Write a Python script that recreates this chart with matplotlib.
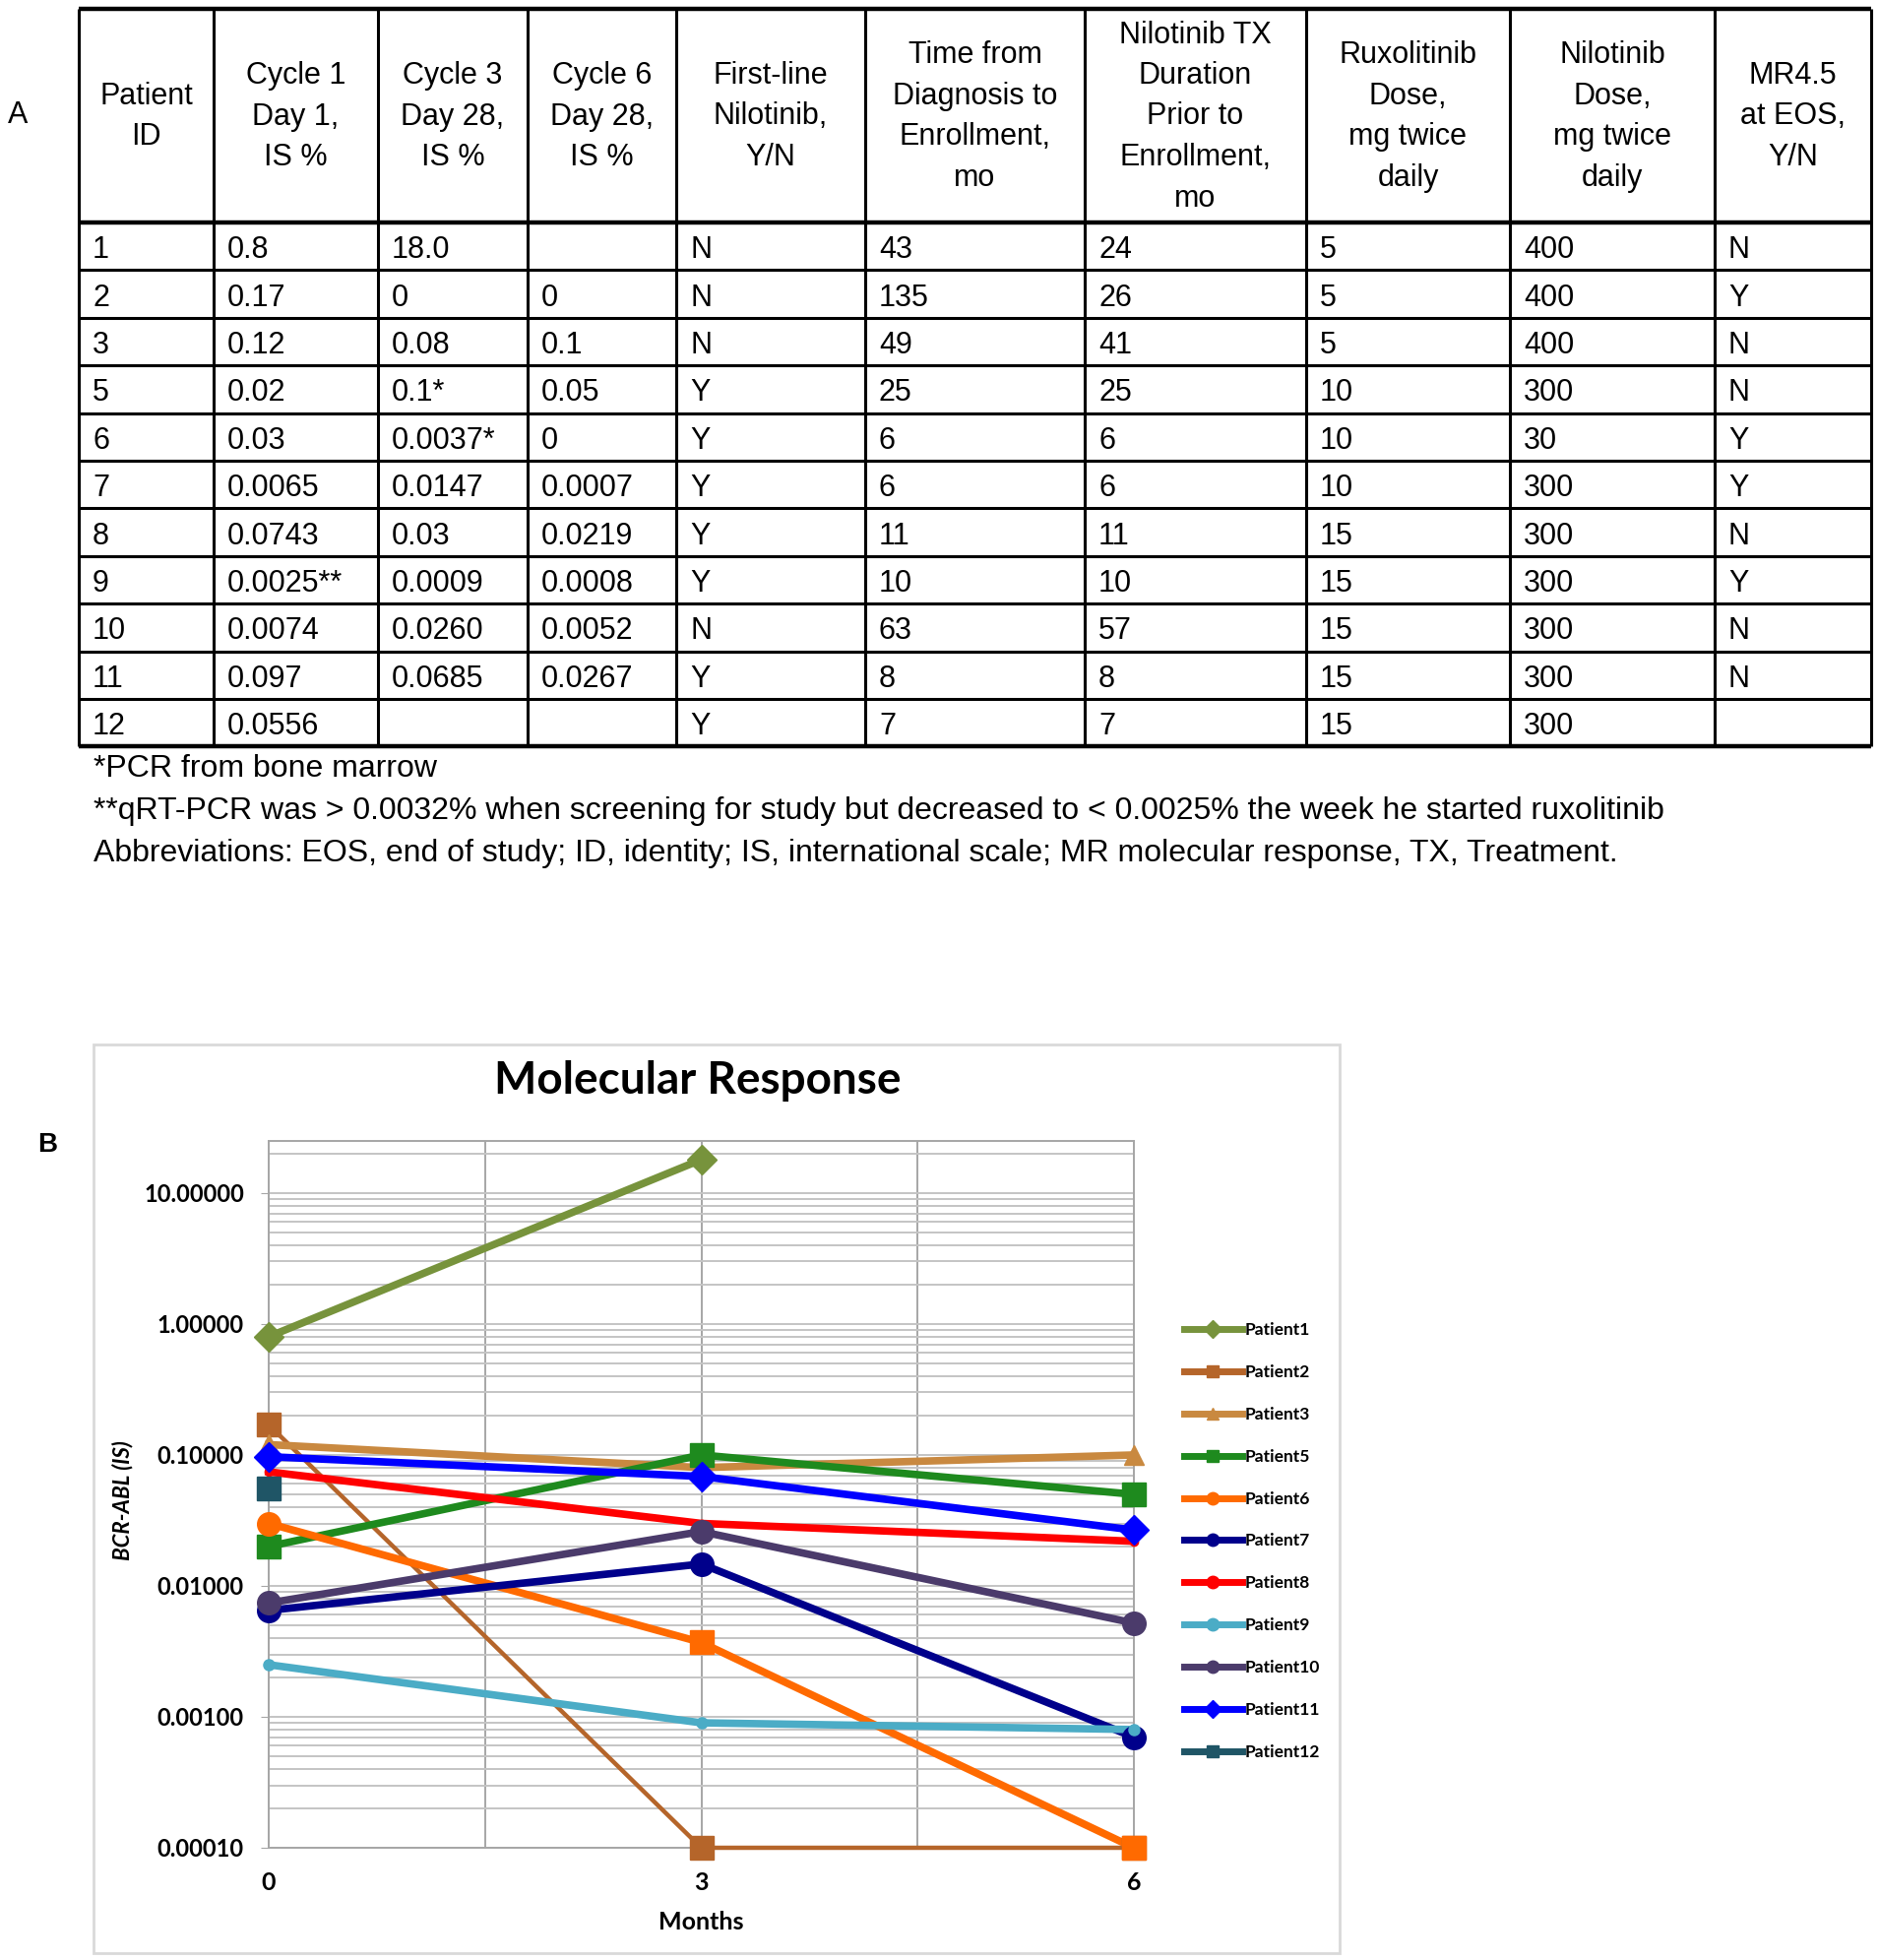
import matplotlib
matplotlib.use('Agg')
import matplotlib.pyplot as plt
import numpy as np
from matplotlib.lines import Line2D
from matplotlib.ticker import LogLocator, FixedLocator, NullFormatter, FuncFormatter

W, H = 1909, 1991
nan = np.nan

# ---------------- panel A: table data
headers = ['Patient\nID', 'Cycle 1\nDay 1,\nIS %', 'Cycle 3\nDay 28,\nIS %',
           'Cycle 6\nDay 28,\nIS %', 'First-line\nNilotinib,\nY/N',
           'Time from\nDiagnosis to\nEnrollment,\nmo',
           'Nilotinib TX\nDuration\nPrior to\nEnrollment,\nmo',
           'Ruxolitinib\nDose,\nmg twice\ndaily', 'Nilotinib\nDose,\nmg twice\ndaily',
           'MR4.5\nat EOS,\nY/N']
patient_ids = ['1', '2', '3', '5', '6', '7', '8', '9', '10', '11', '12']
cycle1 = ['0.8', '0.17', '0.12', '0.02', '0.03', '0.0065', '0.0743', '0.0025**', '0.0074', '0.097', '0.0556']
cycle3 = ['18.0', '0', '0.08', '0.1*', '0.0037*', '0.0147', '0.03', '0.0009', '0.0260', '0.0685', '']
cycle6 = ['', '0', '0.1', '0.05', '0', '0.0007', '0.0219', '0.0008', '0.0052', '0.0267', '']
first_line = ['N', 'N', 'N', 'Y', 'Y', 'Y', 'Y', 'Y', 'N', 'Y', 'Y']
time_dx = ['43', '135', '49', '25', '6', '6', '11', '10', '63', '8', '7']
tx_duration = ['24', '26', '41', '25', '6', '6', '11', '10', '57', '8', '7']
rux_dose = ['5', '5', '5', '10', '10', '10', '15', '15', '15', '15', '15']
nilo_dose = ['400', '400', '400', '300', '30', '300', '300', '300', '300', '300', '300']
mr45 = ['N', 'Y', 'N', 'N', 'Y', 'Y', 'N', 'Y', 'N', 'N', '']

footnotes = ['*PCR from bone marrow',
             '**qRT-PCR was > 0.0032% when screening for study but decreased to < 0.0025% the week he started ruxolitinib',
             'Abbreviations: EOS, end of study; ID, identity; IS, international scale; MR molecular response, TX, Treatment.']

# ---------------- panel B: chart data (zeros drawn on the 0.00010 floor)
months = [0, 3, 6]
labels = ['Patient1', 'Patient2', 'Patient3', 'Patient5', 'Patient6', 'Patient7',
          'Patient8', 'Patient9', 'Patient10', 'Patient11', 'Patient12']
p1 = [0.8, 18.0, nan]
p2 = [0.17, 0.0001, 0.0001]
p3 = [0.12, 0.08, 0.1]
p5 = [0.02, 0.1, 0.05]
p6 = [0.03, 0.0037, 0.0001]
p7 = [0.0065, 0.0147, 0.0007]
p8 = [0.0743, 0.03, 0.0219]
p9 = [0.0025, 0.0009, 0.0008]
p10 = [0.0074, 0.026, 0.0052]
p11 = [0.097, 0.0685, 0.0267]
p12 = [0.0556, nan, nan]
series = [p1, p2, p3, p5, p6, p7, p8, p9, p10, p11, p12]

colors = ['#77933C', '#B5652A', '#C98940', '#1E8A1E', '#FF6A00', '#00008B',
          '#FF0000', '#4BACC6', '#4B3B6B', '#0000FF', '#1F5566']
markers = [['D'] * 3, ['s'] * 3, ['^'] * 3, ['s'] * 3, ['o', 's', 's'], ['o'] * 3,
           ['o'] * 3, ['o'] * 3, ['o'] * 3, ['D'] * 3, ['s'] * 3]
msizes = [15, 17, 15, 17, 17, 17, 6, 8, 17, 15, 17]
lwidths = [5.5, 3.2, 5.5, 5.5, 5.5, 5.5, 5.5, 5.5, 5.5, 5.5, 5.5]

tfont = ['Liberation Sans', 'DejaVu Sans']
cfont = ['Lato', 'DejaVu Sans']

fig = plt.figure(figsize=(W / 100, H / 100), dpi=100)
bg = fig.add_axes([0, 0, 1, 1])
bg.set_xlim(0, W)
bg.set_ylim(H, 0)
bg.axis('off')

# table grid
col_edges = [80, 217, 384, 536, 687, 879, 1102, 1327, 1534, 1742, 1901]
head_top, head_bot, row_h = 9, 226, 48.4
n_rows = len(patient_ids)
row_edges = [head_bot + i * row_h for i in range(n_rows + 1)]
bottom = row_edges[-1]
for x in col_edges:
    bg.plot([x, x], [head_top, bottom], color='black', lw=2.2, solid_capstyle='butt')
for i, y in enumerate([head_top] + row_edges):
    lw = 3.2 if i in (0, 1, len(row_edges)) else 2.2
    bg.plot([col_edges[0], col_edges[-1]], [y, y], color='black', lw=lw, solid_capstyle='butt')

for j, h in enumerate(headers):
    cx = (col_edges[j] + col_edges[j + 1]) / 2
    bg.text(cx, (head_top + head_bot) / 2 + 1, h, ha='center', va='center',
            fontsize=22, family=tfont, linespacing=1.5)

columns = [patient_ids, cycle1, cycle3, cycle6, first_line, time_dx, tx_duration,
           rux_dose, nilo_dose, mr45]
for j, col in enumerate(columns):
    for i, val in enumerate(col):
        cy = (row_edges[i] + row_edges[i + 1]) / 2 + 4
        bg.text(col_edges[j] + 14, cy, val, ha='left', va='center', fontsize=22, family=tfont)

for k, line in enumerate(footnotes):
    bg.text(95, 781 + k * 43, line, ha='left', va='center', fontsize=23, family=tfont)

bg.text(18, 117, 'A', ha='center', va='center', fontsize=22, family=tfont)
bg.text(48, 1163, 'B', ha='center', va='center', fontsize=20, family=tfont, weight='bold')

# chart frame
bg.add_patch(plt.Rectangle((95, 1061), 1266, 923, fill=False, ec='#D9D9D9', lw=2))
bg.text(709, 1098, 'Molecular Response', ha='center', va='center', fontsize=33,
        weight='bold', family=cfont)
bg.text(712, 1953, 'Months', ha='center', va='center', fontsize=18, weight='bold', family=cfont)
bg.text(125, 1524, 'BCR-ABL (IS)', ha='center', va='center', rotation=90, fontsize=16,
        weight='bold', style='italic', family=cfont)

# ---------------- panel B: chart
ax = fig.add_axes([273 / W, 1 - 1877 / H, (1152 - 273) / W, (1877 - 1159) / H])
ax.set_yscale('log')
ax.set_xlim(0, 6)
ax.set_ylim(1e-4, 25)
ax.yaxis.set_major_locator(FixedLocator([1e-4, 1e-3, 1e-2, 1e-1, 1, 10]))
ax.yaxis.set_minor_locator(LogLocator(base=10, subs=np.arange(2, 10)))
ax.yaxis.set_minor_formatter(NullFormatter())
ax.yaxis.set_major_formatter(FuncFormatter(lambda v, p: f'{v:.5f}'))
ax.set_xticks([0, 1.5, 3, 4.5, 6])
ax.set_xticklabels(['0', '', '3', '', '6'])
ax.grid(which='both', axis='y', color='#C4C4C4', lw=1.4)
ax.grid(which='major', axis='x', color='#A6A6A6', lw=1.4)
ax.tick_params(axis='x', length=0, pad=17, labelsize=18)
ax.tick_params(axis='y', which='major', length=6, color='#A6A6A6', labelsize=17, pad=12)
ax.tick_params(axis='y', which='minor', length=0)
for lab in ax.get_xticklabels() + ax.get_yticklabels():
    lab.set_family(cfont)
    lab.set_weight('bold')
for s in ax.spines.values():
    s.set_color('#A6A6A6')
    s.set_linewidth(1.4)

handles = []
for vals, c, mk, ms, lw, lab in zip(series, colors, markers, msizes, lwidths, labels):
    ax.plot(months, vals, color=c, lw=lw, clip_on=False, zorder=3)
    for x, v, m in zip(months, vals, mk):
        if not np.isnan(v):
            ax.plot([x], [v], marker=m, color=c, ms=ms, mec=c, clip_on=False, zorder=4, ls='none')
    handles.append(Line2D([], [], color=c, lw=5, marker=mk[0], ms=9, label=lab))

fig.legend(handles=handles, loc='upper left', bbox_to_anchor=(1196 / W, 1 - 1336 / H),
           frameon=False, handlelength=3.4, handletextpad=0.15,
           labelspacing=1.55, borderaxespad=0,
           prop={'family': cfont, 'size': 12.5, 'weight': 'bold'})

fig.savefig('out.png', dpi=100)
